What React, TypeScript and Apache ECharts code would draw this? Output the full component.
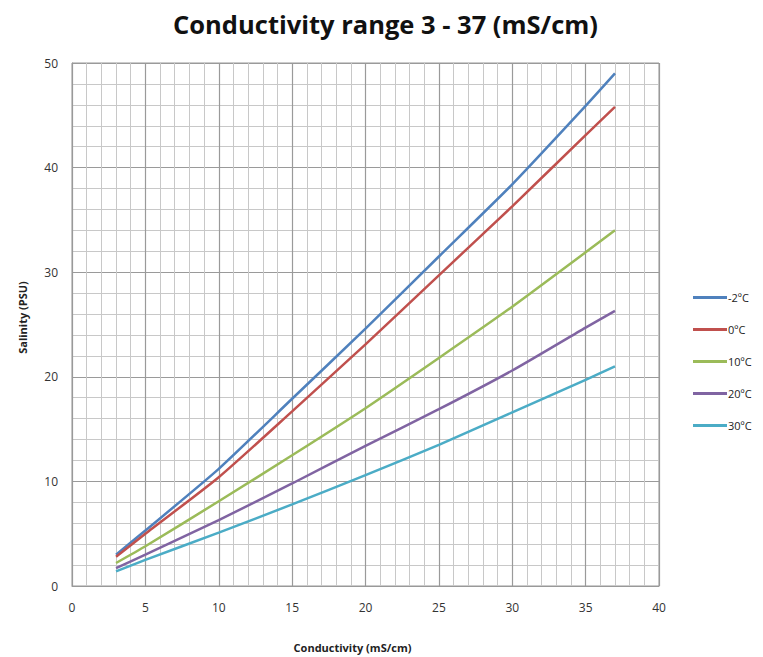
import React, { useEffect, useRef } from "react";
import * as echarts from "echarts";

const conductivity = [3, 5, 10, 15, 20, 25, 30, 35, 37];
const seriesNames = ["-2ºC", "0ºC", "10ºC", "20ºC", "30ºC"];
const salMinus2 = [3.0, 5.3, 11.2, 17.9, 24.6, 31.5, 38.4, 45.9, 49.0];
const sal0 = [2.8, 5.0, 10.4, 16.7, 23.1, 29.7, 36.3, 43.1, 45.8];
const sal10 = [2.2, 3.8, 8.1, 12.5, 17.0, 21.8, 26.7, 31.9, 34.0];
const sal20 = [1.7, 3.0, 6.3, 9.8, 13.4, 16.9, 20.6, 24.7, 26.3];
const sal30 = [1.4, 2.5, 5.1, 7.8, 10.6, 13.5, 16.6, 19.7, 21.0];
const colors = ["#4F81BD", "#C0504D", "#9BBB59", "#8064A2", "#4BACC6"];

export default function App() {
  const ref = useRef<HTMLDivElement>(null);
  useEffect(() => {
    if (!ref.current) return;
    const chart = echarts.init(ref.current, undefined, { renderer: "svg" });
    const all = [salMinus2, sal0, sal10, sal20, sal30];
    const font = "'Open Sans', 'Noto Sans', sans-serif";
    chart.setOption({
      animation: false,
      backgroundColor: "#ffffff",
      title: {
        text: "Conductivity range 3 - 37 (mS/cm)",
        left: "center",
        top: -2,
        textStyle: { fontFamily: font, fontSize: 25.5, fontWeight: "bold", color: "#111" },
      },
      grid: {
        left: 64, right: 104, top: 55, bottom: 71,
        outerBoundsMode: "none", containLabel: false,
        show: true, borderColor: "#999", borderWidth: 1,
      },
      legend: {
        orient: "vertical",
        left: 680,
        top: 279,
        itemWidth: 34,
        itemHeight: 3,
        itemGap: 21,
        icon: "rect",
        textStyle: { fontFamily: font, fontSize: 11, color: "#222", padding: [0, 0, 0, -4] },
        data: seriesNames,
      },
      xAxis: {
        type: "value",
        min: 0,
        max: 40,
        interval: 5,
        name: "Conductivity (mS/cm)",
        nameLocation: "middle",
        nameGap: 56,
        nameTextStyle: { fontFamily: font, fontSize: 11, fontWeight: "bold", color: "#222", padding: [0, 26, 0, 0] },
        axisLine: { show: true, lineStyle: { color: "#999" } },
        axisTick: { show: false },
        axisLabel: { fontFamily: font, fontSize: 12, color: "#333", margin: 15 },
        splitLine: { show: true, lineStyle: { color: "#9a9a9a", width: 1.2 } },
        minorTick: { show: false, splitNumber: 5 },
        minorSplitLine: { show: true, lineStyle: { color: "#c8c8c8", width: 1 } },
      },
      yAxis: {
        type: "value",
        min: 0,
        max: 50,
        interval: 10,
        name: "Salinity (PSU)",
        nameLocation: "middle",
        nameGap: 44,
        nameTextStyle: { fontFamily: font, fontSize: 11, fontWeight: "bold", color: "#222", padding: [0, 0, 0, 14] },
        axisLine: { show: true, lineStyle: { color: "#999" } },
        axisTick: { show: false },
        axisLabel: { fontFamily: font, fontSize: 12, color: "#333", margin: 14 },
        splitLine: { show: true, lineStyle: { color: "#9a9a9a", width: 1.2 } },
        minorTick: { show: false, splitNumber: 5 },
        minorSplitLine: { show: true, lineStyle: { color: "#c8c8c8", width: 1 } },
      },
      series: seriesNames.map((name, i) => ({
        name,
        type: "line",
        showSymbol: false,
        smooth: 0.2,
        color: colors[i],
        lineStyle: { width: 2.5, color: colors[i] },
        data: conductivity.map((c, j) => [c, all[i][j]]),
      })),
    });
    return () => chart.dispose();
  }, []);
  return <div ref={ref} style={{ width: 755, height: 649 }} />;
}
